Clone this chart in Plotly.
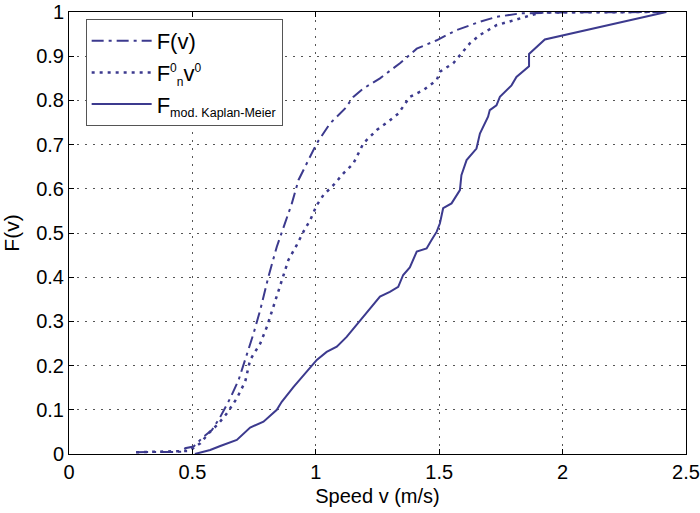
import plotly.graph_objects as go

# F(v) (dash-dot)
fv_v = [0.272, 0.33, 0.464, 0.471, 0.505, 0.545, 0.579, 0.613, 0.653, 0.687, 0.721, 0.748, 0.775,
        0.808, 0.842, 0.876, 0.903, 0.930, 0.963, 1.004, 1.058, 1.119, 1.152, 1.193, 1.260,
        1.341, 1.409, 1.490, 1.570, 1.665, 1.732, 1.83, 2.0, 2.42]
fv_f = [0.004, 0.004, 0.005, 0.013, 0.017, 0.039, 0.054, 0.084, 0.126, 0.167, 0.224, 0.273, 0.326,
        0.401, 0.469, 0.522, 0.567, 0.620, 0.657, 0.703, 0.748, 0.782, 0.808, 0.827, 0.850,
        0.884, 0.917, 0.936, 0.959, 0.978, 0.989, 0.997, 0.999, 1.0]

# F0_n v0 (dotted)
f0_v = [0.272, 0.40, 0.49, 0.512, 0.532, 0.566, 0.606, 0.640, 0.680, 0.714, 0.734, 0.775, 0.802,
        0.828, 0.862, 0.889, 0.923, 0.950, 0.977, 1.004, 1.031, 1.071, 1.112, 1.152, 1.193,
        1.247, 1.294, 1.334, 1.381, 1.435, 1.490, 1.503, 1.557, 1.590, 1.624, 1.665, 1.732,
        1.874, 1.915, 2.42]
f0_f = [0.004, 0.005, 0.007, 0.017, 0.024, 0.047, 0.069, 0.092, 0.126, 0.164, 0.213, 0.250, 0.288,
        0.333, 0.393, 0.439, 0.473, 0.503, 0.529, 0.563, 0.586, 0.608, 0.635, 0.657, 0.703,
        0.733, 0.752, 0.770, 0.808, 0.823, 0.846, 0.865, 0.884, 0.906, 0.929, 0.948, 0.970,
        0.993, 0.999, 1.0]

# F mod. Kaplan-Meier (solid)
km_v = [0.51, 0.572, 0.613, 0.680, 0.734, 0.788, 0.842, 0.862, 0.910, 0.950, 0.984, 1.004, 1.044,
        1.085, 1.125, 1.166, 1.193, 1.226, 1.260, 1.300, 1.334, 1.354, 1.381, 1.409, 1.449,
        1.469, 1.490, 1.503, 1.516, 1.550, 1.570, 1.584, 1.590, 1.611, 1.651, 1.665, 1.698,
        1.705, 1.732, 1.746, 1.793, 1.813, 1.864, 1.864, 1.928, 2.42]
km_f = [0.0, 0.009, 0.018, 0.032, 0.060, 0.073, 0.100, 0.118, 0.152, 0.179, 0.201, 0.213, 0.231,
        0.243, 0.265, 0.292, 0.310, 0.333, 0.356, 0.367, 0.378, 0.405, 0.422, 0.458, 0.465,
        0.484, 0.503, 0.522, 0.556, 0.567, 0.586, 0.597, 0.631, 0.665, 0.691, 0.725, 0.763,
        0.778, 0.789, 0.808, 0.834, 0.853, 0.877, 0.905, 0.938, 1.0]

x_ticks = [0, 0.5, 1, 1.5, 2, 2.5]
y_ticks = [0, 0.1, 0.2, 0.3, 0.4, 0.5, 0.6, 0.7, 0.8, 0.9, 1]

color = "#3c3a8e"
font = "Liberation Sans, Arial, Helvetica, sans-serif"

fig = go.Figure()
fig.add_trace(go.Scatter(x=fv_v, y=fv_f, mode="lines", name="F(v)",
                         line=dict(color=color, width=2, dash="12px,5px,3px,5px")))
fig.add_trace(go.Scatter(x=f0_v, y=f0_f, mode="lines",
                         name="F<sup><span style='font-size:12px'>0</span></sup><sub><span style='font-size:12px'>n</span></sub>v<sup><span style='font-size:12px'>0</span></sup>",
                         line=dict(color=color, width=2.5, dash="3px,5px")))
fig.add_trace(go.Scatter(x=km_v, y=km_f, mode="lines",
                         name="F<sub><span style='font-size:12.5px'>mod. Kaplan-Meier</span></sub>",
                         line=dict(color=color, width=2)))

axis_common = dict(showline=True, linecolor="black", linewidth=1, mirror="ticks",
                   ticks="inside", ticklen=5, tickcolor="black",
                   showgrid=True, gridcolor="#555555", gridwidth=1, griddash="2px,6px",
                   zeroline=False, automargin=False, ticklabeloverflow="allow",
                   tickfont=dict(size=20, color="black", family=font))

fig.update_layout(
    width=700, height=513,
    margin=dict(l=69, r=14, t=12, b=59),
    paper_bgcolor="white", plot_bgcolor="white",
    font=dict(family=font, color="black"),
    xaxis=dict(range=[0, 2.5], tickvals=x_ticks, ticktext=[str(t) for t in x_ticks],
               title=dict(text="Speed v (m/s)", font=dict(size=20), standoff=6), **axis_common),
    yaxis=dict(range=[0, 1], tickvals=y_ticks, ticktext=[str(t) for t in y_ticks],
               title=dict(text="F(v)", font=dict(size=21), standoff=14), **axis_common),
    legend=dict(x=0.027, y=0.984, xanchor="left", yanchor="top",
                bgcolor="white", bordercolor="#555555", borderwidth=1,
                font=dict(size=22, family=font, color="black"), itemwidth=60),
    showlegend=True,
)

# remove the default 8px page margin so the figure sits at the window's corner
fig.write_html("out.html", config={"displayModeBar": False},
               post_script="document.body.style.margin='0px';")
